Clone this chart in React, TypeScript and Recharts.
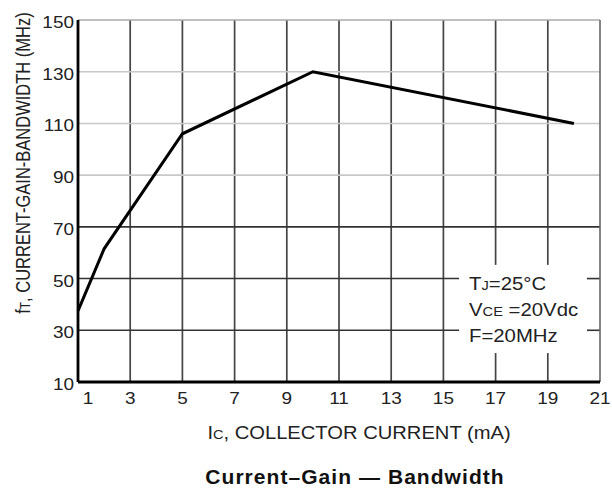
import React from "react";
import { LineChart, Line, XAxis, YAxis, ReferenceLine } from "recharts";

const currentMA = [1, 2, 5, 10, 20];
const ftMHz = [37.5, 61.5, 106, 130, 110];
const xTicks = [1, 3, 5, 7, 9, 11, 13, 15, 17, 19, 21];
const yTicks = [10, 30, 50, 70, 90, 110, 130, 150];
const vGrid = [3, 5, 7, 9, 11, 13, 15];
const vGridBroken = [17, 19];
const hGridLight = [90, 110, 130];
const hGridDark = [70];
const hGridBroken = [30, 50];
const gapX = [15.6, 20.5];
const gapY = [21.2, 55.3];

const data = currentMA.map((c, i) => ({ ic: c, ft: ftMHz[i] }));

const FONT = "'Liberation Sans', Arial, Helvetica, sans-serif";
const DARK = "#444";
const LIGHT = "#c8c8c8";

const XTick = (props: any) => {
  const { x, y, payload } = props;
  const shift = payload.value === 1 ? 10 : 0;
  return (
    <text
      transform={`translate(${x + shift},${y}) scale(1.15,1)`}
      x={0}
      y={0}
      dy={14}
      textAnchor="middle"
      fontSize={16.5}
      fill="#222"
      fontFamily={FONT}
    >
      {payload.value}
    </text>
  );
};

const YTick = (props: any) => {
  const { x, y, payload } = props;
  return (
    <text
      transform={`translate(${x + 4},${y}) scale(1.15,1)`}
      x={0}
      y={0}
      dy={8}
      textAnchor="end"
      fontSize={16.5}
      fill="#222"
      fontFamily={FONT}
    >
      {payload.value}
    </text>
  );
};

export default function App() {
  return (
    <div style={{ position: "fixed", left: 0, top: 0, width: 612, height: 489, background: "#fff", fontFamily: FONT }}>
      <LineChart width={612} height={489} data={data} margin={{ top: 20, right: 12, bottom: 77, left: 0 }}>
        <XAxis
          dataKey="ic"
          type="number"
          domain={[1, 21]}
          ticks={xTicks}
          tickLine={false}
          axisLine={false}
          tick={<XTick />}
          height={30}
          interval={0}
        />
        <YAxis
          type="number"
          domain={[10, 150]}
          ticks={yTicks}
          tickLine={false}
          axisLine={false}
          tick={<YTick />}
          width={78}
          interval={0}
        />
        {vGrid.map((v) => (
          <ReferenceLine key={"v" + v} x={v} stroke={DARK} strokeWidth={1.7} />
        ))}
        {vGridBroken.map((v) => (
          <ReferenceLine key={"vb1" + v} segment={[{ x: v, y: 10 }, { x: v, y: gapY[0] }]} stroke={DARK} strokeWidth={1.7} />
        ))}
        {vGridBroken.map((v) => (
          <ReferenceLine key={"vb2" + v} segment={[{ x: v, y: gapY[1] }, { x: v, y: 150 }]} stroke={DARK} strokeWidth={1.7} />
        ))}
        {hGridLight.map((h) => (
          <ReferenceLine key={"hl" + h} y={h} stroke={LIGHT} strokeWidth={1.6} />
        ))}
        {hGridDark.map((h) => (
          <ReferenceLine key={"hd" + h} y={h} stroke="#333" strokeWidth={1.8} />
        ))}
        {hGridBroken.map((h) => (
          <ReferenceLine key={"hb1" + h} segment={[{ x: 1, y: h }, { x: gapX[0], y: h }]} stroke="#333" strokeWidth={1.6} />
        ))}
        {hGridBroken.map((h) => (
          <ReferenceLine key={"hb2" + h} segment={[{ x: gapX[1], y: h }, { x: 21, y: h }]} stroke="#333" strokeWidth={1.6} />
        ))}
        <ReferenceLine y={150} stroke="#aaa" strokeWidth={1.6} />
        <ReferenceLine x={21} stroke="#666" strokeWidth={1.6} />
        <ReferenceLine x={1} stroke="#000" strokeWidth={2.8} />
        <ReferenceLine y={10} stroke="#000" strokeWidth={2.8} />
        <Line
          type="linear"
          dataKey="ft"
          stroke="#000"
          strokeWidth={3}
          dot={false}
          activeDot={false}
          isAnimationActive={false}
        />
      </LineChart>

      <div
        style={{
          position: "absolute",
          left: 23,
          top: 163,
          transform: "translate(-50%, -50%) scaleX(1.2) rotate(-90deg)",
          whiteSpace: "nowrap",
          fontSize: 16.5,
          color: "#222",
        }}
      >
        f<span style={{ fontSize: "0.72em" }}>T</span>, CURRENT-GAIN-BANDWIDTH (MHz)
      </div>

      <div
        style={{
          position: "absolute",
          left: 359,
          top: 433,
          transform: "translate(-50%, -50%) scaleX(1.12)",
          whiteSpace: "nowrap",
          fontSize: 18,
          color: "#222",
        }}
      >
        I<span style={{ fontSize: "0.72em" }}>C</span>, COLLECTOR CURRENT (mA)
      </div>

      <div
        style={{
          position: "absolute",
          left: 355,
          top: 477,
          transform: "translate(-50%, -50%) scaleX(1.05)",
          whiteSpace: "nowrap",
          fontSize: 20,
          fontWeight: "bold",
          letterSpacing: 1,
          color: "#111",
        }}
      >
        Current–Gain — Bandwidth
      </div>

      <div
        style={{
          position: "absolute",
          left: 469,
          top: 272,
          fontSize: 18,
          lineHeight: "25px",
          color: "#222",
          whiteSpace: "nowrap",
          transform: "scaleX(1.13)",
          transformOrigin: "left top",
        }}
      >
        <div>
          T<span style={{ fontSize: "0.72em" }}>J</span>=25°C
        </div>
        <div>
          V<span style={{ fontSize: "0.72em" }}>CE</span> =20Vdc
        </div>
        <div>F=20MHz</div>
      </div>
    </div>
  );
}
